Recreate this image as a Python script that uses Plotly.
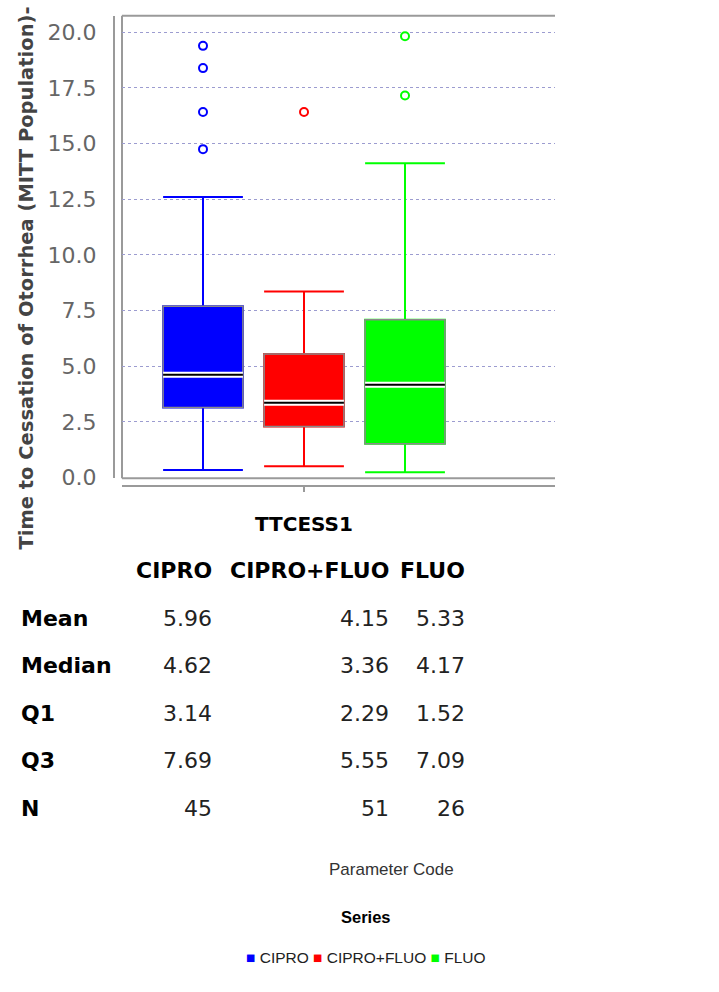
import plotly.graph_objects as go

W, H = 719, 992

# ---- data -------------------------------------------------------------
series = ["CIPRO", "CIPRO+FLUO", "FLUO"]
colors = ["#0000ff", "#ff0000", "#00ff00"]
positions = [0, 1, 2]
category = "TTCESS1"

mean_vals = [5.96, 4.15, 5.33]
median_vals = [4.62, 3.36, 4.17]
q1_vals = [3.14, 2.29, 1.52]
q3_vals = [7.69, 5.55, 7.09]
n_vals = [45, 51, 26]
lower_whisker = [0.34, 0.50, 0.24]
upper_whisker = [12.60, 8.36, 14.12]
outliers = [[19.39, 18.39, 16.42, 14.75], [16.42], [19.82, 17.16]]

y_ticks = [0, 2.5, 5, 7.5, 10, 12.5, 15, 17.5, 20]

stat_rows = ["Mean", "Median", "Q1", "Q3", "N"]
stat_values = [
    [f"{v:.2f}" for v in mean_vals],
    [f"{v:.2f}" for v in median_vals],
    [f"{v:.2f}" for v in q1_vals],
    [f"{v:.2f}" for v in q3_vals],
    [str(v) for v in n_vals],
]

# ---- helpers ----------------------------------------------------------
def px(x):
    return x / W


def py(y):
    return 1 - y / H


BOX_W = 0.79
SANS = "DejaVu Sans"
ARIAL = "Liberation Sans, Arial, sans-serif"

fig = go.Figure()

for i, name in enumerate(series):
    pos, col = positions[i], colors[i]
    # whiskers (series colour)
    fig.add_trace(go.Box(
        x=[pos], q1=[q1_vals[i]], median=[median_vals[i]], q3=[q3_vals[i]],
        lowerfence=[lower_whisker[i]], upperfence=[upper_whisker[i]],
        width=BOX_W, whiskerwidth=1, fillcolor=col,
        line=dict(color=col, width=2), boxpoints=False,
        name=name, showlegend=False, hoverinfo="skip",
    ))
    # box body with grey outline
    fig.add_trace(go.Box(
        x=[pos], q1=[q1_vals[i]], median=[median_vals[i]], q3=[q3_vals[i]],
        lowerfence=[q1_vals[i]], upperfence=[q3_vals[i]],
        width=BOX_W, whiskerwidth=0, fillcolor=col,
        line=dict(color="#8a8a8a", width=1.5), boxpoints=False,
        name=name, showlegend=False, hoverinfo="skip",
    ))
    # median: black line with white halo
    mx = [pos - BOX_W / 2, pos + BOX_W / 2]
    my = [median_vals[i], median_vals[i]]
    fig.add_trace(go.Scatter(x=mx, y=my, mode="lines",
                             line=dict(color="white", width=6),
                             showlegend=False, hoverinfo="skip"))
    fig.add_trace(go.Scatter(x=mx, y=my, mode="lines",
                             line=dict(color="black", width=2),
                             showlegend=False, hoverinfo="skip"))
    # outliers
    fig.add_trace(go.Scatter(
        x=[pos] * len(outliers[i]), y=outliers[i], mode="markers",
        marker=dict(symbol="circle-open", size=8, color=col,
                    line=dict(color=col, width=2)),
        showlegend=False, hoverinfo="skip",
    ))

# ---- plot frame -------------------------------------------------------
frame = dict(type="line", xref="paper", yref="paper", layer="below",
             line=dict(color="#9a9a9a", width=2))
fig.add_shape(x0=px(122), x1=px(555), y0=py(16), y1=py(16), **frame)
fig.add_shape(x0=px(122), x1=px(122), y0=py(16), y1=py(484), **frame)
fig.add_shape(x0=px(122), x1=px(555), y0=py(484), y1=py(484), **frame)

annotations = []

# axis title
annotations.append(dict(
    text="Time to Cessation of Otorrhea (MITT Population)-",
    x=px(27), y=py(282), xref="paper", yref="paper", textangle=-90,
    showarrow=False, xanchor="center", yanchor="middle",
    font=dict(family=SANS, size=19.5, color="#444444", weight="bold"),
))

# category label
annotations.append(dict(
    text=f"<b>{category}</b>", x=positions[1], y=py(530), xref="x", yref="paper",
    showarrow=False, xanchor="center", yanchor="middle",
    font=dict(family=SANS, size=20, color="black"),
))

# statistics table
col_right = [214, 391, 467]
for j, name in enumerate(series):
    annotations.append(dict(
        text=f"<b>{name}</b>", x=px(col_right[j]), y=py(577),
        xref="paper", yref="paper", showarrow=False,
        xanchor="right", yanchor="middle",
        font=dict(family=SANS, size=22, color="black"),
    ))
row_y = [626, 674, 722, 770, 818]
for r, label in enumerate(stat_rows):
    annotations.append(dict(
        text=f"<b>{label}</b>", x=px(19), y=py(row_y[r]),
        xref="paper", yref="paper", showarrow=False,
        xanchor="left", yanchor="middle",
        font=dict(family=SANS, size=22, color="black"),
    ))
    for j in range(len(series)):
        annotations.append(dict(
            text=stat_values[r][j], x=px(col_right[j]), y=py(row_y[r]),
            xref="paper", yref="paper", showarrow=False,
            xanchor="right", yanchor="middle",
            font=dict(family=SANS, size=22, color="#222222"),
        ))

# legend block
annotations.append(dict(
    text="Parameter Code", x=px(391), y=py(880), xref="paper", yref="paper",
    showarrow=False, xanchor="center", yanchor="middle",
    font=dict(family=ARIAL, size=17, color="#333333"),
))
annotations.append(dict(
    text="<b>Series</b>", x=px(366), y=py(928), xref="paper", yref="paper",
    showarrow=False, xanchor="center", yanchor="middle",
    font=dict(family=ARIAL, size=16.5, color="black"),
))
legend_text = " ".join(
    f'<span style="color:{c}">■</span> {s}' for s, c in zip(series, colors)
)
annotations.append(dict(
    text=legend_text, x=px(366), y=py(969), xref="paper", yref="paper",
    showarrow=False, xanchor="center", yanchor="middle",
    font=dict(family=ARIAL, size=15.5, color="#222222"),
))

fig.update_layout(
    width=W, height=H, autosize=False,
    margin=dict(l=0, r=0, t=0, b=0),
    paper_bgcolor="white", plot_bgcolor="white",
    boxmode="overlay", showlegend=False,
    annotations=annotations,
    xaxis=dict(
        domain=[px(122), px(555)],
        range=[-0.802, 3.485],
        anchor="free", position=py(492),
        showline=True, linecolor="#9a9a9a", linewidth=2,
        ticks="outside", ticklen=5, tickwidth=2, tickcolor="#9a9a9a",
        tickvals=[positions[1]], ticktext=[""],
        showgrid=False, zeroline=False, fixedrange=True,
    ),
    yaxis=dict(
        domain=[py(484), py(16)],
        range=[-0.03, 20.74],
        anchor="free", position=px(114),
        showline=True, linecolor="#9a9a9a", linewidth=2,
        ticks="", tickvals=y_ticks, tickformat=".1f",
        ticklabelstandoff=12,
        tickfont=dict(family=SANS, size=22, color="#666666"),
        showgrid=True, gridcolor="#9c9cd0", gridwidth=1, griddash="3px,3px",
        zeroline=False, fixedrange=True,
    ),
)

fig.write_html("out.html")
